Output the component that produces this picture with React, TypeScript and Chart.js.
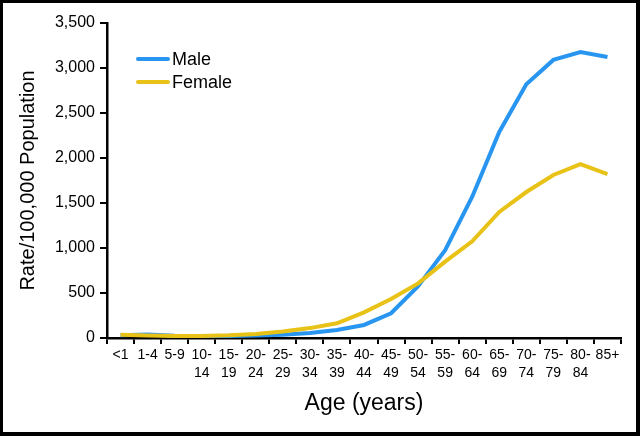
import React, { useEffect, useRef } from "react";
import { Chart, registerables } from "chart.js";

Chart.register(...registerables);

const ageGroups: (string | string[])[] = [
  "<1", "1-4", "5-9", ["10-", "14"], ["15-", "19"], ["20-", "24"], ["25-", "29"],
  ["30-", "34"], ["35-", "39"], ["40-", "44"], ["45-", "49"], ["50-", "54"],
  ["55-", "59"], ["60-", "64"], ["65-", "69"], ["70-", "74"], ["75-", "79"],
  ["80-", "84"], "85+",
];
const maleRates = [30, 38, 25, 20, 22, 28, 35, 55, 90, 145, 275, 575, 975, 1570, 2290, 2820, 3090, 3178, 3122];
const femaleRates = [35, 28, 22, 22, 30, 45, 72, 110, 163, 285, 433, 607, 848, 1075, 1400, 1622, 1811, 1933, 1822];
const seriesNames = ["Male", "Female"];
const yMax = 3500;
const yStep = 500;

const BLUE = "rgb(40,150,240)";
const YELLOW = "rgb(232,194,22)";

const legendPlugin = {
  id: "insideLegend",
  afterDraw(chart: any) {
    const ctx = chart.ctx;
    const area = chart.chartArea;
    ctx.save();
    const x0 = area.left + 31;
    const rows = [chart.data.datasets[0], chart.data.datasets[1]];
    rows.forEach((ds: any, i: number) => {
      const y = 56 + i * 23;
      ctx.strokeStyle = ds.borderColor;
      ctx.lineWidth = 4;
      ctx.lineCap = "round";
      ctx.beginPath();
      ctx.moveTo(x0, y);
      ctx.lineTo(x0 + 30, y);
      ctx.stroke();
      ctx.fillStyle = "#000";
      ctx.font = "18px 'Liberation Sans', Arial, sans-serif";
      ctx.textBaseline = "middle";
      ctx.textAlign = "left";
      ctx.fillText(ds.label, x0 + 34, y + 1);
    });
    ctx.restore();
  },
};

export default function App() {
  const ref = useRef<HTMLCanvasElement | null>(null);
  useEffect(() => {
    if (!ref.current) return;
    const chart = new Chart(ref.current, {
      type: "line",
      data: {
        labels: ageGroups as any,
        datasets: [
          {
            label: seriesNames[0],
            data: maleRates,
            borderColor: BLUE,
            backgroundColor: BLUE,
            borderWidth: 4,
            pointRadius: 0,
            tension: 0,
            order: 1,
          },
          {
            label: seriesNames[1],
            data: femaleRates,
            borderColor: YELLOW,
            backgroundColor: YELLOW,
            borderWidth: 4,
            pointRadius: 0,
            tension: 0,
            order: 0,
          },
        ],
      },
      options: {
        animation: false,
        responsive: false,
        layout: { padding: { left: 0, right: 15, top: 20, bottom: 0 } },
        plugins: { legend: { display: false }, tooltip: { enabled: false } },
        scales: {
          x: {
            type: "category",
            offset: true,
            grid: {
              display: true,
              offset: true,
              drawOnChartArea: false,
              drawTicks: true,
              tickLength: 6,
              color: "#000",
              lineWidth: 2,
            },
            border: { display: true, color: "#000", width: 2.5 },
            ticks: {
              color: "#000",
              autoSkip: false,
              maxRotation: 0,
              padding: 2,
              font: { family: "'Liberation Sans', Arial, sans-serif", size: 14, lineHeight: 1.29 },
            },
            title: {
              display: true,
              text: "Age (years)",
              color: "#000",
              font: { family: "'Liberation Sans', Arial, sans-serif", size: 23 },
              padding: { top: 0, bottom: 15 },
            },
            afterFit: (s: any) => {
              s.height = 94;
            },
          },
          y: {
            min: 0,
            max: yMax,
            grid: {
              display: true,
              drawOnChartArea: false,
              drawTicks: true,
              tickLength: 7,
              color: "#000",
              lineWidth: 2,
            },
            border: { display: true, color: "#000", width: 2.5 },
            ticks: {
              stepSize: yStep,
              color: "#000",
              padding: 5,
              font: { family: "'Liberation Sans', Arial, sans-serif", size: 16 },
              callback: (v: any) => Number(v).toLocaleString("en-US"),
            },
            title: {
              display: true,
              text: "Rate/100,000 Population",
              color: "#000",
              font: { family: "'Liberation Sans', Arial, sans-serif", size: 20 },
              padding: { top: 13, bottom: 0 },
            },
            afterFit: (s: any) => {
              s.width = 104;
            },
          },
        },
      },
      plugins: [legendPlugin],
    } as any);
    return () => chart.destroy();
  }, []);

  return (
    <div style={{ position: "fixed", left: 0, top: 0, width: 640, height: 436, background: "#000" }}>
      <div style={{ position: "absolute", left: 3, top: 3, width: 633, height: 429, background: "#fff" }}>
        <canvas ref={ref} width={633} height={429} style={{ display: "block", width: 633, height: 429 }} />
      </div>
    </div>
  );
}
